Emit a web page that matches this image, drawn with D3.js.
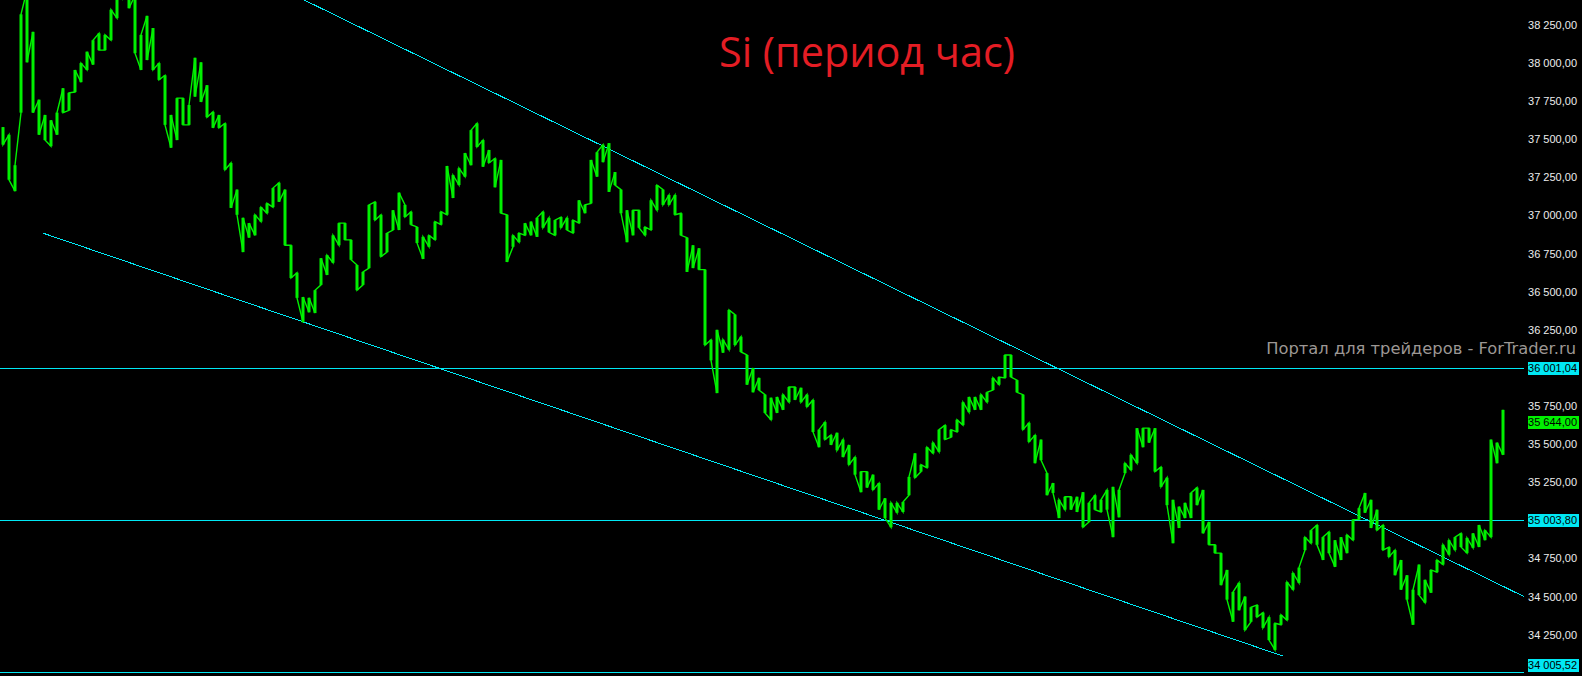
<!DOCTYPE html>
<html>
<head>
<meta charset="utf-8">
<script src="https://cdn.jsdelivr.net/npm/d3@7"></script>
<style>
  html, body { margin: 0; padding: 0; background: #000; overflow: hidden; }
  svg { display: block; }
</style>
</head>
<body>
<svg id="chart"></svg>
<script>
// Hourly bars of Si (high / low per bar, oldest first)
const barHigh = [
  37580, 37530, 37330, 38320, 38480, 38205, 37760, 37660, 37625, 37675,
  37835, 37805, 37955, 38000, 38075, 38150, 38195, 38185, 38350, 38445,
  38545, 38495, 38445, 38185, 38310, 38230, 38000, 37920, 37660, 37770,
  37770, 37725, 38035, 38005, 37855, 37680, 37660, 37605, 37345, 37170,
  36985, 36950, 37005, 37055, 37080, 37180, 37215, 37170, 36805, 36625,
  36465, 36460, 36510, 36720, 36740, 36870, 36950, 36950, 36840, 36675,
  36630, 37070, 37090, 37005, 36885, 37035, 37150, 37070, 37025, 36925,
  36860, 36870, 36960, 37025, 37325, 37265, 37310, 37410, 37560, 37605,
  37495, 37430, 37375, 37365, 37005, 36870, 36885, 36950, 36960, 36985,
  37025, 36985, 36970, 36990, 36985, 36970, 37100, 37070, 37365, 37415,
  37465, 37475, 37285, 37170, 37035, 37035, 37035, 36925, 37100, 37200,
  37170, 37135, 37135, 37015, 36855, 36805, 36785, 36645, 36185, 36250,
  36185, 36380, 36350, 36205, 36085, 36000, 35935, 35825, 35805, 35810,
  35825, 35875, 35875, 35870, 35825, 35790, 35595, 35645, 35560, 35575,
  35530, 35495, 35415, 35320, 35320, 35300, 35245, 35145, 35115, 35115,
  35120, 35285, 35440, 35365, 35480, 35510, 35595, 35625, 35595, 35660,
  35775, 35810, 35810, 35825, 35840, 35935, 35940, 36085, 36085, 35920,
  35825, 35640, 35560, 35530, 35310, 35245, 35135, 35155, 35155, 35155,
  35185, 35115, 35165, 35135, 35200, 35220, 35200, 35375, 35430, 35605,
  35605, 35605, 35605, 35350, 35280, 35135, 35090, 35115, 35180, 35215,
  35200, 34990, 34840, 34785, 34675, 34530, 34590, 34500, 34430, 34445,
  34395, 34365, 34325, 34380, 34595, 34655, 34690, 34890, 34935, 34970,
  34890, 34925, 34870, 34890, 34905, 35005, 35080, 35180, 35135, 35070,
  34970, 34825, 34805, 34740, 34640, 34545, 34710, 34610, 34675, 34740,
  34840, 34870, 34890, 34915, 34885, 34915, 34970, 34935, 35530, 35510,
  35725
];
const barLow = [
  37465, 37235, 37160, 37675, 38005, 37675, 37530, 37495, 37455, 37530,
  37675, 37690, 37810, 37875, 37955, 37990, 38085, 38085, 38150, 38295,
  38425, 38360, 38065, 37955, 38020, 37955, 37890, 37595, 37445, 37495,
  37595, 37595, 37780, 37745, 37645, 37575, 37575, 37300, 37050, 37005,
  36760, 36855, 36870, 36960, 37015, 37055, 37090, 36805, 36590, 36460,
  36300, 36365, 36360, 36545, 36610, 36690, 36805, 36840, 36710, 36510,
  36545, 36655, 36970, 36730, 36760, 36905, 36905, 36990, 36940, 36820,
  36715, 36795, 36840, 36940, 37005, 37115, 37200, 37255, 37330, 37450,
  37320, 37345, 37185, 37015, 36695, 36795, 36825, 36870, 36870, 36860,
  36920, 36890, 36870, 36920, 36905, 36885, 36950, 37015, 37080, 37255,
  37350, 37155, 37200, 37015, 36825, 36870, 36920, 36870, 36905, 37035,
  37070, 37070, 37005, 36870, 36630, 36655, 36645, 36150, 36050, 35835,
  36100, 36120, 36150, 36105, 35890, 35840, 35855, 35705, 35660, 35705,
  35725, 35775, 35790, 35775, 35745, 35580, 35480, 35530, 35495, 35460,
  35415, 35365, 35300, 35185, 35215, 35200, 35070, 35015, 34955, 35050,
  35055, 35165, 35280, 35320, 35345, 35440, 35450, 35530, 35545, 35580,
  35625, 35710, 35725, 35725, 35775, 35855, 35890, 35935, 35940, 35840,
  35595, 35515, 35375, 35395, 35165, 35180, 35015, 35070, 35070, 35055,
  34955, 34990, 35070, 35055, 35070, 34890, 35020, 35310, 35330, 35375,
  35480, 35510, 35320, 35220, 35100, 34850, 34950, 35015, 35015, 35100,
  34915, 34840, 34785, 34575, 34480, 34335, 34410, 34280, 34335, 34365,
  34295, 34215, 34150, 34315, 34345, 34545, 34590, 34805, 34850, 34840,
  34740, 34785, 34695, 34740, 34785, 34870, 35005, 35050, 34950, 34935,
  34805, 34760, 34640, 34545, 34480, 34315, 34510, 34460, 34525, 34660,
  34710, 34775, 34805, 34825, 34785, 34820, 34825, 34870, 34890, 35375,
  35430
];
const lastPrice = 35644;

// right price scale
const priceTicks = d3.range(34250, 38251, 250);
const levels = [36001.04, 35003.80, 34005.52];

// trend lines as [bar index, price] anchors
const upperTrend = [[50.2, 38414], [253.5, 34500]];
const lowerTrend = [[6.7, 36884], [213.4, 34109]];

const titleText = 'Si (период час)';
const watermarkText = 'Портал для трейдеров - ForTrader.ru';

const width = 1582;
const height = 676;
const plotRight = 1524;

const green = '#00f000';
const cyan = '#00e8f4';

const svg = d3.select('#chart')
    .attr('width', width)
    .attr('height', height);

svg.append('rect')
    .attr('width', width)
    .attr('height', height)
    .attr('fill', '#000');

svg.append('clipPath')
    .attr('id', 'plotClip')
    .append('rect')
    .attr('width', plotRight)
    .attr('height', height);

const x = d3.scaleLinear()
    .domain([0, barHigh.length - 1])
    .range([3, 1503]);

const y = d3.scaleLinear()
    .domain([38414, 33979])
    .range([0, height]);

const plot = svg.append('g').attr('clip-path', 'url(#plotClip)');

// horizontal levels
plot.selectAll('.level')
    .data(levels)
    .join('line')
    .attr('class', 'level')
    .attr('x1', 0)
    .attr('x2', plotRight)
    .attr('y1', d => Math.round(y(d)) + 0.5)
    .attr('y2', d => Math.round(y(d)) + 0.5)
    .attr('stroke', cyan)
    .attr('stroke-width', 1);

// trend lines
const trendLine = d3.line()
    .x(d => x(d[0]))
    .y(d => y(d[1]));

plot.selectAll('.trend')
    .data([upperTrend, lowerTrend])
    .join('path')
    .attr('class', 'trend')
    .attr('d', trendLine)
    .attr('fill', 'none')
    .attr('stroke', cyan)
    .attr('stroke-width', 1)
    .attr('shape-rendering', 'crispEdges');

// price path: each bar drawn high->low or low->high depending on where the next bar sits
const points = [];
barHigh.forEach((hi, i) => {
    const lo = barLow[i];
    const mid = (hi + lo) / 2;
    const nextMid = i < barHigh.length - 1 ? (barHigh[i + 1] + barLow[i + 1]) / 2 : lastPrice;
    if (nextMid >= mid) {
        points.push([i, lo], [i, hi]);
    } else {
        points.push([i, hi], [i, lo]);
    }
});
points.push([barHigh.length - 1, lastPrice]);

plot.append('path')
    .datum(points)
    .attr('d', d3.line().x(d => x(d[0])).y(d => y(d[1])))
    .attr('fill', 'none')
    .attr('stroke', green)
    .attr('stroke-width', 1.4)
    .attr('stroke-linejoin', 'miter');

// the high-low range of every bar
plot.selectAll('.bar')
    .data(barHigh)
    .join('rect')
    .attr('class', 'bar')
    .attr('x', (d, i) => x(i) - 1.5)
    .attr('width', 3)
    .attr('y', d => y(d))
    .attr('height', (d, i) => Math.max(1, y(barLow[i]) - y(d)))
    .attr('fill', green);

// axis labels
const ru = d3.formatLocale({ decimal: ',', thousands: ' ', grouping: [3], currency: ['', ''] });
const fmt = ru.format(',.2f');

const labelFont = '"Liberation Sans", Arial, sans-serif';

const tagged = levels.concat([lastPrice]).map(v => y(v));
const visibleTicks = priceTicks.filter(v => tagged.every(t => Math.abs(t - y(v)) > 9));

svg.selectAll('.tick')
    .data(visibleTicks)
    .join('text')
    .attr('class', 'tick')
    .attr('x', 1577)
    .attr('y', d => y(d))
    .attr('dy', '0.36em')
    .attr('text-anchor', 'end')
    .style('font-family', labelFont)
    .style('font-size', '11px')
    .attr('fill', '#ececec')
    .text(d => fmt(d));

function addTag(value, bg) {
    const cy = Math.min(y(value), height - 11);
    svg.append('rect')
        .attr('x', 1528)
        .attr('y', Math.round(cy) - 6)
        .attr('width', 51)
        .attr('height', 13)
        .attr('fill', bg);
    svg.append('text')
        .attr('x', 1577)
        .attr('y', cy)
        .attr('dy', '0.36em')
        .attr('text-anchor', 'end')
        .style('font-family', labelFont)
        .style('font-size', '11px')
        .attr('fill', '#000')
        .text(fmt(value));
}

levels.forEach(v => addTag(v, cyan));
addTag(lastPrice, green);

// watermark
const wm = svg.append('text')
    .attr('x', 1576)
    .attr('y', 354)
    .attr('text-anchor', 'end')
    .style('font-family', '"DejaVu Sans", Verdana, sans-serif')
    .style('font-size', '15px')
    .attr('fill', '#9c9794')
    .text(watermarkText);
const wmLen = wm.node().getComputedTextLength();
wm.style('font-size', (15 * 310 / wmLen) + 'px');

// title
const title = svg.append('text')
    .attr('x', 719)
    .attr('y', 67)
    .style('font-family', '"Open Sans", sans-serif')
    .style('font-size', '40px')
    .attr('fill', '#e41d24')
    .text(titleText);
const tLen = title.node().getComputedTextLength();
title.style('font-size', (40 * 296 / tLen) + 'px');
</script>
</body>
</html>
